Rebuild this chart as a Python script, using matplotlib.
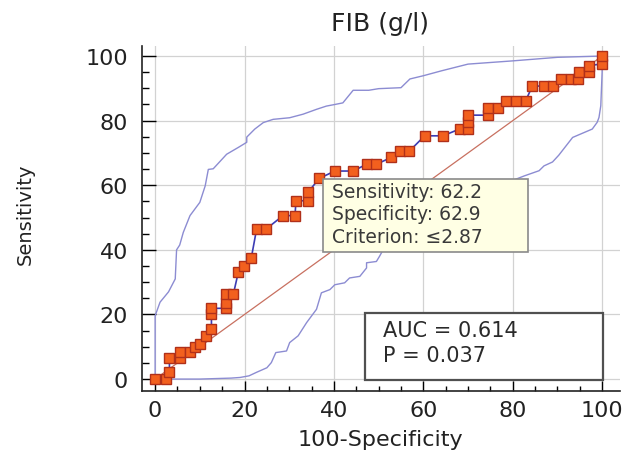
import matplotlib.pyplot as plt
from matplotlib.patches import Rectangle

# ROC curve points (100-Specificity, Sensitivity)
roc_x = [0, 2.5, 3.2, 3.2, 5.6, 5.6, 7.8, 8.9, 10, 11.3,
         12.6, 12.6, 12.6, 15.8, 15.8, 15.8, 17.5, 18.6, 19.9, 21.5,
         22.7, 24.8, 28.6, 31.3, 31.5, 34.2, 34.2, 36.7, 40.2, 44.3,
         47.3, 49.5, 52.8, 54.7, 56.9, 60.3, 64.4, 68.1, 69.9, 69.9,
         69.9, 74.4, 74.4, 76.6, 78.5, 80.7, 82.9, 84.4, 87, 88.9,
         90.8, 93, 94.5, 94.9, 97.1, 97.1, 100, 100]
roc_y = [0, 0, 2.1, 6.4, 6.4, 8.3, 8.3, 9.8, 10.8, 13.4,
         15.5, 20.1, 21.9, 21.9, 23.7, 26.3, 26.3, 33, 35.1, 37.4,
         46.4, 46.4, 50.6, 50.6, 55.2, 55.2, 57.8, 62.1, 64.4, 64.4,
         66.5, 66.5, 68.6, 70.6, 70.6, 75.3, 75.3, 77.4, 77.4, 79.5,
         81.7, 81.7, 83.8, 84.0, 86.2, 86.2, 86.2, 90.7, 90.7, 90.7,
         92.8, 92.8, 92.8, 95, 95, 97, 97.6, 100]

# 95% confidence bounds
upper_x = [0, 0, 1.1, 3, 4.5, 4.8, 5.5, 6.3, 7.8, 10, 11.2, 11.9, 13, 16,
           18.6, 20.5, 20.5, 22.3, 24.2, 26.4, 30.1, 33.1, 36.1, 38.3, 40.2,
           42, 44.3, 47.8, 50, 55, 57, 60, 64, 70, 80, 90, 100]
upper_y = [0, 19.6, 23.8, 27, 31, 40, 41.5, 45.4, 50.6, 54.7, 59.8, 64.9, 65.1, 69.6,
           71.7, 73.3, 74.9, 77.4, 79.4, 80.4, 80.9, 82, 83.5, 84.5, 85,
           85.5, 89.4, 89.4, 89.9, 90.2, 92.9, 93.9, 95.4, 97.5, 98.5, 99.6, 100]
lower_x = [0, 10, 17, 19, 21, 22.7, 25, 26, 27, 29.4, 30.1, 32, 33.9, 36.1,
           37.2, 39.1, 40.2, 42.4, 43.5, 45.8, 47.3, 47.3, 49.5, 50.2, 51,
           55, 60, 65, 70, 75, 80, 82.6, 85.9, 87, 88.9, 90.3, 93.4, 97.8,
           98.9, 99.3, 99.7, 100, 100]
lower_y = [0, 0, 0.3, 0.5, 1, 2.1, 3.5, 5.1, 8.2, 8.7, 11.3, 13.4, 17.5, 21.6,
           26.7, 27.7, 29.2, 29.8, 31.3, 31.8, 34.4, 36, 36.4, 38, 40,
           45, 52, 56, 58, 60, 61.5, 62.9, 64.5, 66, 67.2, 69.3, 74.8, 77.4,
           79.5, 81, 84.6, 95, 100]

ticks = [0, 20, 40, 60, 80, 100]
criterion_lines = ["Sensitivity: 62.2", "Specificity: 62.9", "Criterion: \u22642.87"]
auc_lines = ["AUC = 0.614", "P = 0.037"]

plt.rcParams['font.family'] = ['DejaVu Sans']

fig = plt.figure(figsize=(6.29, 4.56), dpi=100)
ax = fig.add_axes([0.2253, 0.141, 0.7604, 0.7566])

ax.plot(upper_x, upper_y, color="#8c8cd2", lw=1.0, zorder=2)
ax.plot(lower_x, lower_y, color="#8c8cd2", lw=1.0, zorder=2)
ax.plot([0, 100], [0, 100], color="#c87060", lw=0.9, zorder=2)
ax.plot(roc_x, roc_y, color="#3c3cb4", lw=1.2, zorder=3,
        marker="s", markersize=6.5, markerfacecolor="#f2601e",
        markeredgecolor="#b0301a", markeredgewidth=1.0)

ax.set_xlim(-3, 104)
ax.set_ylim(-3.6, 103.2)
ax.set_xticks(ticks)
ax.set_yticks(ticks)
ax.set_xticks(range(0, 101, 5), minor=True)
ax.set_yticks(range(0, 101, 5), minor=True)
ax.grid(True, color="#d2d2d2", lw=0.9)
ax.set_axisbelow(True)
for s in ["top", "right"]:
    ax.spines[s].set_visible(False)
for s in ["left", "bottom"]:
    ax.spines[s].set_color("#222222")
    ax.spines[s].set_linewidth(1.2)
ax.tick_params(axis="x", which="major", direction="in", length=7, width=1, pad=7,
               labelsize=16, labelcolor="#222222")
ax.tick_params(axis="x", which="minor", direction="in", length=3.6, width=1)
ax.tick_params(axis="y", which="major", direction="in", length=10, width=1, pad=10,
               labelsize=16, labelcolor="#222222")
ax.tick_params(axis="y", which="minor", direction="in", length=5, width=1)

# criterion box
ax.add_patch(Rectangle((37.6, 39.3), 45.8, 22.6, facecolor="#ffffe4",
                       edgecolor="#8a8a8a", lw=1.2, zorder=5))
for i, line in enumerate(criterion_lines):
    ax.text(39.6, 58.2 - i * 7.1, line, fontsize=13.5, color="#3a3a3a",
            va="center", ha="left", zorder=6)

# AUC box
ax.add_patch(Rectangle((47.0, -0.2), 53.2, 20.8, facecolor="white",
                       edgecolor="#505050", lw=1.6, zorder=5))
for i, line in enumerate(auc_lines):
    ax.text(51, 15.3 - i * 7.9, line, fontsize=15, color="#2a2a2a",
            va="center", ha="left", zorder=6)

fig.text(380 / 629, 1 - 24 / 456, "FIB (g/l)", fontsize=18, color="#222222",
         ha="center", va="center")
fig.text(380 / 629, 1 - 440 / 456, "100-Specificity", fontsize=16, color="#222222",
         ha="center", va="center")
fig.text(25 / 629, 1 - 214 / 456, "Sensitivity", fontsize=14, color="#222222",
         ha="center", va="center", rotation=90)

fig.savefig("out.png", dpi=100)
